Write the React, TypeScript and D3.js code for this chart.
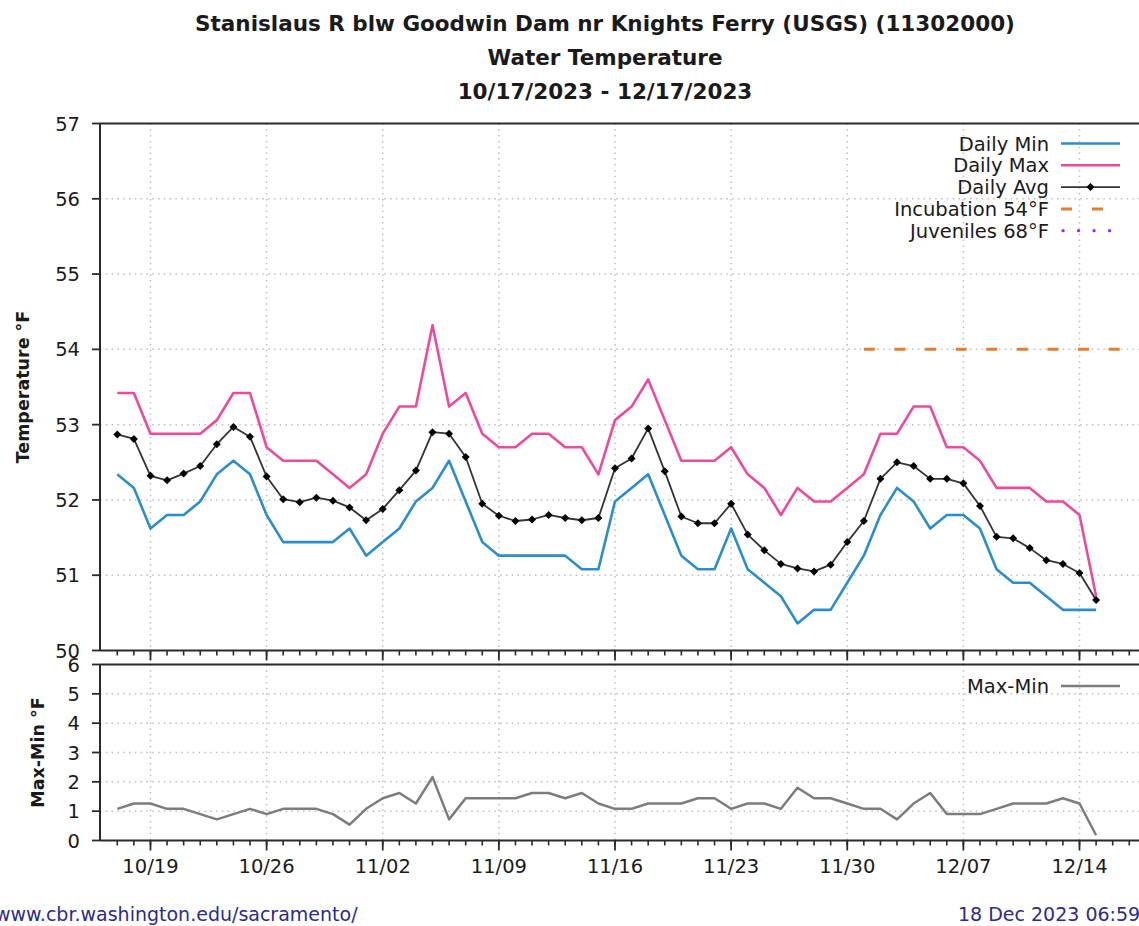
import React from "react";
import * as d3 from "d3";

// Daily water temperature (°F), Stanislaus R blw Goodwin Dam, from 10/17/2023
const START = new Date(2023, 9, 17);

const dailyMin = [
  52.34, 52.16, 51.62, 51.8, 51.8, 51.98, 52.34, 52.52, 52.34, 51.8, 51.44, 51.44, 51.44, 51.44, 51.62, 51.26,
  51.44, 51.62, 51.98, 52.16, 52.52, 51.98, 51.44, 51.26, 51.26, 51.26, 51.26, 51.26, 51.08, 51.08, 51.98,
  52.16, 52.34, 51.8, 51.26, 51.08, 51.08, 51.62, 51.08, 50.9, 50.72, 50.36, 50.54, 50.54, 50.9, 51.26, 51.8,
  52.16, 51.98, 51.62, 51.8, 51.8, 51.62, 51.08, 50.9, 50.9, 50.72, 50.54, 50.54, 50.54,
];

const dailyMax = [
  53.42, 53.42, 52.88, 52.88, 52.88, 52.88, 53.06, 53.42, 53.42, 52.7, 52.52, 52.52, 52.52, 52.34, 52.16, 52.34,
  52.88, 53.24, 53.24, 54.32, 53.24, 53.42, 52.88, 52.7, 52.7, 52.88, 52.88, 52.7, 52.7, 52.34, 53.06,
  53.24, 53.6, 53.06, 52.52, 52.52, 52.52, 52.7, 52.34, 52.16, 51.8, 52.16, 51.98, 51.98, 52.16, 52.34, 52.88,
  52.88, 53.24, 53.24, 52.7, 52.7, 52.52, 52.16, 52.16, 52.16, 51.98, 51.98, 51.8, 50.72,
];

const dailyAvg = [
  52.87, 52.81, 52.32, 52.26, 52.35, 52.45, 52.74, 52.97, 52.84, 52.31, 52.01, 51.97, 52.03, 51.99, 51.9, 51.73,
  51.88, 52.13, 52.39, 52.9, 52.88, 52.57, 51.95, 51.79, 51.72, 51.74, 51.8, 51.76, 51.73, 51.76, 52.42,
  52.55, 52.95, 52.38, 51.78, 51.69, 51.69, 51.95, 51.54, 51.33, 51.15, 51.09, 51.05, 51.14, 51.44, 51.72, 52.28,
  52.5, 52.45, 52.28, 52.28, 52.22, 51.92, 51.51, 51.49, 51.36, 51.2, 51.15, 51.03, 50.67,
];

const maxMinRange = [
  1.08, 1.26, 1.26, 1.08, 1.08, 0.9, 0.72, 0.9, 1.08, 0.9, 1.08, 1.08, 1.08, 0.9, 0.54, 1.08,
  1.44, 1.62, 1.26, 2.16, 0.72, 1.44, 1.44, 1.44, 1.44, 1.62, 1.62, 1.44, 1.62, 1.26, 1.08,
  1.08, 1.26, 1.26, 1.26, 1.44, 1.44, 1.08, 1.26, 1.26, 1.08, 1.8, 1.44, 1.44, 1.26, 1.08, 1.08,
  0.72, 1.26, 1.62, 0.9, 0.9, 0.9, 1.08, 1.26, 1.26, 1.26, 1.44, 1.26, 0.18,
];

// Incubation criterion shown from 12/01 onward
const incubationValue = 54;
const incubationStart = new Date(2023, 11, 1);

const tempTicks = [50, 51, 52, 53, 54, 55, 56, 57];
const rangeTicks = [0, 1, 2, 3, 4, 5, 6];

const titleLines = [
  "Stanislaus R blw Goodwin Dam nr Knights Ferry (USGS) (11302000)",
  "Water Temperature",
  "10/17/2023 - 12/17/2023",
];

const dates = d3.timeDay.range(START, d3.timeDay.offset(START, dailyMin.length));

const W = 1139;
const H = 926;
const X0 = 100;
const FONT = "'DejaVu Sans', Verdana, sans-serif";

const COL_MIN = "#2b8dcb";
const COL_MAX = "#ee4a9c";
const COL_AVG = "#333333";
const COL_INC = "#e87d2c";
const COL_JUV = "#a425f0";
const COL_RANGE = "#7c7c7c";
const COL_GRID = "#bdbdbd";
const COL_AXIS = "#2a2a2a";

const x = d3
  .scaleTime()
  .domain([new Date(2023, 9, 16), new Date(2023, 11, 18)])
  .range([100.7, 100.7 + 63 * 16.59]);

const yT = d3.scaleLinear().domain([50, 57]).range([650.5, 123.5]);
const yR = d3.scaleLinear().domain([0, 6]).range([840.5, 664.5]);

// weekly major ticks from 10/19, daily minor ticks
const majorDays = d3.timeDay.range(new Date(2023, 9, 19), new Date(2023, 11, 19), 7);
const minorDays = d3.timeDay
  .range(new Date(2023, 9, 16), new Date(2023, 11, 19))
  .filter((d) => x(d) >= X0 + 2 && x(d) <= W);
const fmt = d3.timeFormat("%m/%d");

const lineT = (vals: number[]) =>
  d3
    .line<number>()
    .x((_, i) => x(dates[i]))
    .y((v) => yT(v))(vals) as string;

const lineR = d3
  .line<number>()
  .x((_, i) => x(dates[i]))
  .y((v) => yR(v))(maxMinRange) as string;

const diamond = (cx: number, cy: number, r = 4) =>
  `M${cx},${cy - r}L${cx + r},${cy}L${cx},${cy + r}L${cx - r},${cy}Z`;

function XAxis({ y0 }: { y0: number }) {
  return (
    <g stroke={COL_AXIS}>
      <line x1={X0} x2={W} y1={y0} y2={y0} strokeWidth={2} />
      {minorDays.map((d, i) => (
        <line key={"m" + i} x1={x(d)} x2={x(d)} y1={y0} y2={y0 + 5} strokeWidth={1.6} />
      ))}
      {majorDays.map((d, i) => (
        <line key={"M" + i} x1={x(d)} x2={x(d)} y1={y0} y2={y0 + 10} strokeWidth={1.8} />
      ))}
    </g>
  );
}

export default function App() {
  const legendRows = [
    { label: "Daily Min", kind: "min" },
    { label: "Daily Max", kind: "max" },
    { label: "Daily Avg", kind: "avg" },
    { label: "Incubation 54°F", kind: "inc" },
    { label: "Juveniles 68°F", kind: "juv" },
  ];
  const lgTextX = 1049;
  const lgX1 = 1061;
  const lgX2 = 1120;
  const lgY0 = 143.5;
  const lgDy = 21.8;

  return (
    <div style={{ position: "absolute", left: 0, top: 0 }}>
      <svg width={W} height={H} viewBox={`0 0 ${W} ${H}`} style={{ display: "block", background: "#fff" }}>
        <rect width={W} height={H} fill="#fff" />

        {/* title */}
        <g fontFamily={FONT} fontWeight="bold" fontSize={21.5} fill="#1a1a1a" textAnchor="middle">
          {titleLines.map((t, i) => (
            <text key={i} x={605} y={31 + i * 34}>
              {t}
            </text>
          ))}
        </g>

        {/* grid */}
        <g stroke={COL_GRID} strokeWidth={1.5} strokeDasharray="1.5 4.3" fill="none">
          {tempTicks.slice(1, -1).map((t) => (
            <line key={"gy" + t} x1={X0} x2={W} y1={yT(t)} y2={yT(t)} />
          ))}
          {majorDays.map((d, i) => (
            <line key={"gx" + i} x1={x(d)} x2={x(d)} y1={yT(57)} y2={yT(50)} />
          ))}
          {rangeTicks.slice(1, -1).map((t) => (
            <line key={"ry" + t} x1={X0} x2={W} y1={yR(t)} y2={yR(t)} />
          ))}
          {majorDays.map((d, i) => (
            <line key={"rx" + i} x1={x(d)} x2={x(d)} y1={yR(6)} y2={yR(0)} />
          ))}
        </g>

        {/* incubation threshold */}
        <line
          x1={x(incubationStart)}
          x2={W}
          y1={yT(incubationValue)}
          y2={yT(incubationValue)}
          stroke={COL_INC}
          strokeWidth={3}
          strokeDasharray="11 19.6"
        />

        {/* temperature series */}
        <path d={lineT(dailyMax)} fill="none" stroke={COL_MAX} strokeWidth={2.6} strokeLinejoin="round" />
        <path d={lineT(dailyMin)} fill="none" stroke={COL_MIN} strokeWidth={2.6} strokeLinejoin="round" />
        <path d={lineT(dailyAvg)} fill="none" stroke={COL_AVG} strokeWidth={1.8} strokeLinejoin="round" />
        <g fill="#000">
          {dailyAvg.map((v, i) => (
            <path key={i} d={diamond(x(dates[i]), yT(v))} />
          ))}
        </g>

        {/* max-min series */}
        <path d={lineR} fill="none" stroke={COL_RANGE} strokeWidth={2.5} strokeLinejoin="round" />

        {/* frames */}
        <g stroke={COL_AXIS} strokeWidth={2}>
          <line x1={X0} x2={W} y1={yT(57)} y2={yT(57)} />
          <line x1={X0} x2={X0} y1={yT(57)} y2={yT(50)} />
          <line x1={X0} x2={W} y1={yR(6)} y2={yR(6)} />
          <line x1={X0} x2={X0} y1={yR(6)} y2={yR(0)} />
        </g>
        <XAxis y0={yT(50)} />
        <XAxis y0={yR(0)} />

        {/* y ticks */}
        <g stroke={COL_AXIS} strokeWidth={1.8}>
          {tempTicks.map((t) => (
            <line key={"ty" + t} x1={X0 - 8} x2={X0} y1={yT(t)} y2={yT(t)} />
          ))}
          {rangeTicks.map((t) => (
            <line key={"tr" + t} x1={X0 - 8} x2={X0} y1={yR(t)} y2={yR(t)} />
          ))}
        </g>
        <g fontFamily={FONT} fontSize={19.5} fill="#1a1a1a" textAnchor="end">
          {tempTicks.map((t) => (
            <text key={"ly" + t} x={80} y={yT(t) + 7}>
              {t}
            </text>
          ))}
          {rangeTicks.map((t) => (
            <text key={"lr" + t} x={80} y={yR(t) + 7}>
              {t}
            </text>
          ))}
        </g>
        <g fontFamily={FONT} fontSize={19.5} fill="#1a1a1a" textAnchor="middle">
          {majorDays.map((d, i) => (
            <text key={"lx" + i} x={x(d)} y={873}>
              {fmt(d)}
            </text>
          ))}
        </g>

        {/* axis titles */}
        <g fontFamily={FONT} fontWeight="bold" fontSize={17.5} fill="#1a1a1a" textAnchor="middle">
          <text transform={`translate(28.5,${(yT(57) + yT(50)) / 2}) rotate(-90)`}>Temperature °F</text>
          <text transform={`translate(43.5,${(yR(6) + yR(0)) / 2}) rotate(-90)`}>Max-Min °F</text>
        </g>

        {/* legend: temperature panel */}
        <g fontFamily={FONT} fontSize={19.5} fill="#1a1a1a">
          {legendRows.map((r, i) => {
            const cy = lgY0 + i * lgDy;
            let sample: React.ReactNode = null;
            if (r.kind === "min")
              sample = <line x1={lgX1} x2={lgX2} y1={cy} y2={cy} stroke={COL_MIN} strokeWidth={2.6} />;
            else if (r.kind === "max")
              sample = <line x1={lgX1} x2={lgX2} y1={cy} y2={cy} stroke={COL_MAX} strokeWidth={2.6} />;
            else if (r.kind === "avg")
              sample = (
                <g>
                  <line x1={lgX1} x2={lgX2} y1={cy} y2={cy} stroke={COL_AVG} strokeWidth={1.8} />
                  <path d={diamond((lgX1 + lgX2) / 2, cy)} fill="#000" />
                </g>
              );
            else if (r.kind === "inc")
              sample = (
                <line x1={lgX1} x2={lgX2} y1={cy} y2={cy} stroke={COL_INC} strokeWidth={3} strokeDasharray="11 20" />
              );
            else
              sample = (
                <line
                  x1={lgX1 + 2}
                  x2={lgX2}
                  y1={cy}
                  y2={cy}
                  stroke={COL_JUV}
                  strokeWidth={3.2}
                  strokeLinecap="round"
                  strokeDasharray="0.1 15.4"
                />
              );
            return (
              <g key={r.label}>
                <text x={lgTextX} y={cy + 7} textAnchor="end">
                  {r.label}
                </text>
                {sample}
              </g>
            );
          })}
        </g>

        {/* legend: range panel */}
        <g fontFamily={FONT} fontSize={19.5} fill="#1a1a1a">
          <text x={lgTextX} y={686 + 7} textAnchor="end">
            Max-Min
          </text>
          <line x1={lgX1} x2={lgX2} y1={686} y2={686} stroke={COL_RANGE} strokeWidth={2.5} />
        </g>

        {/* footer */}
        <g fontFamily={FONT} fontSize={19} fill="#2b2b8c">
          <text x={-5} y={921}>
            www.cbr.washington.edu/sacramento/
          </text>
          <text x={958} y={921}>
            18 Dec 2023 06:59
          </text>
        </g>
      </svg>
    </div>
  );
}
